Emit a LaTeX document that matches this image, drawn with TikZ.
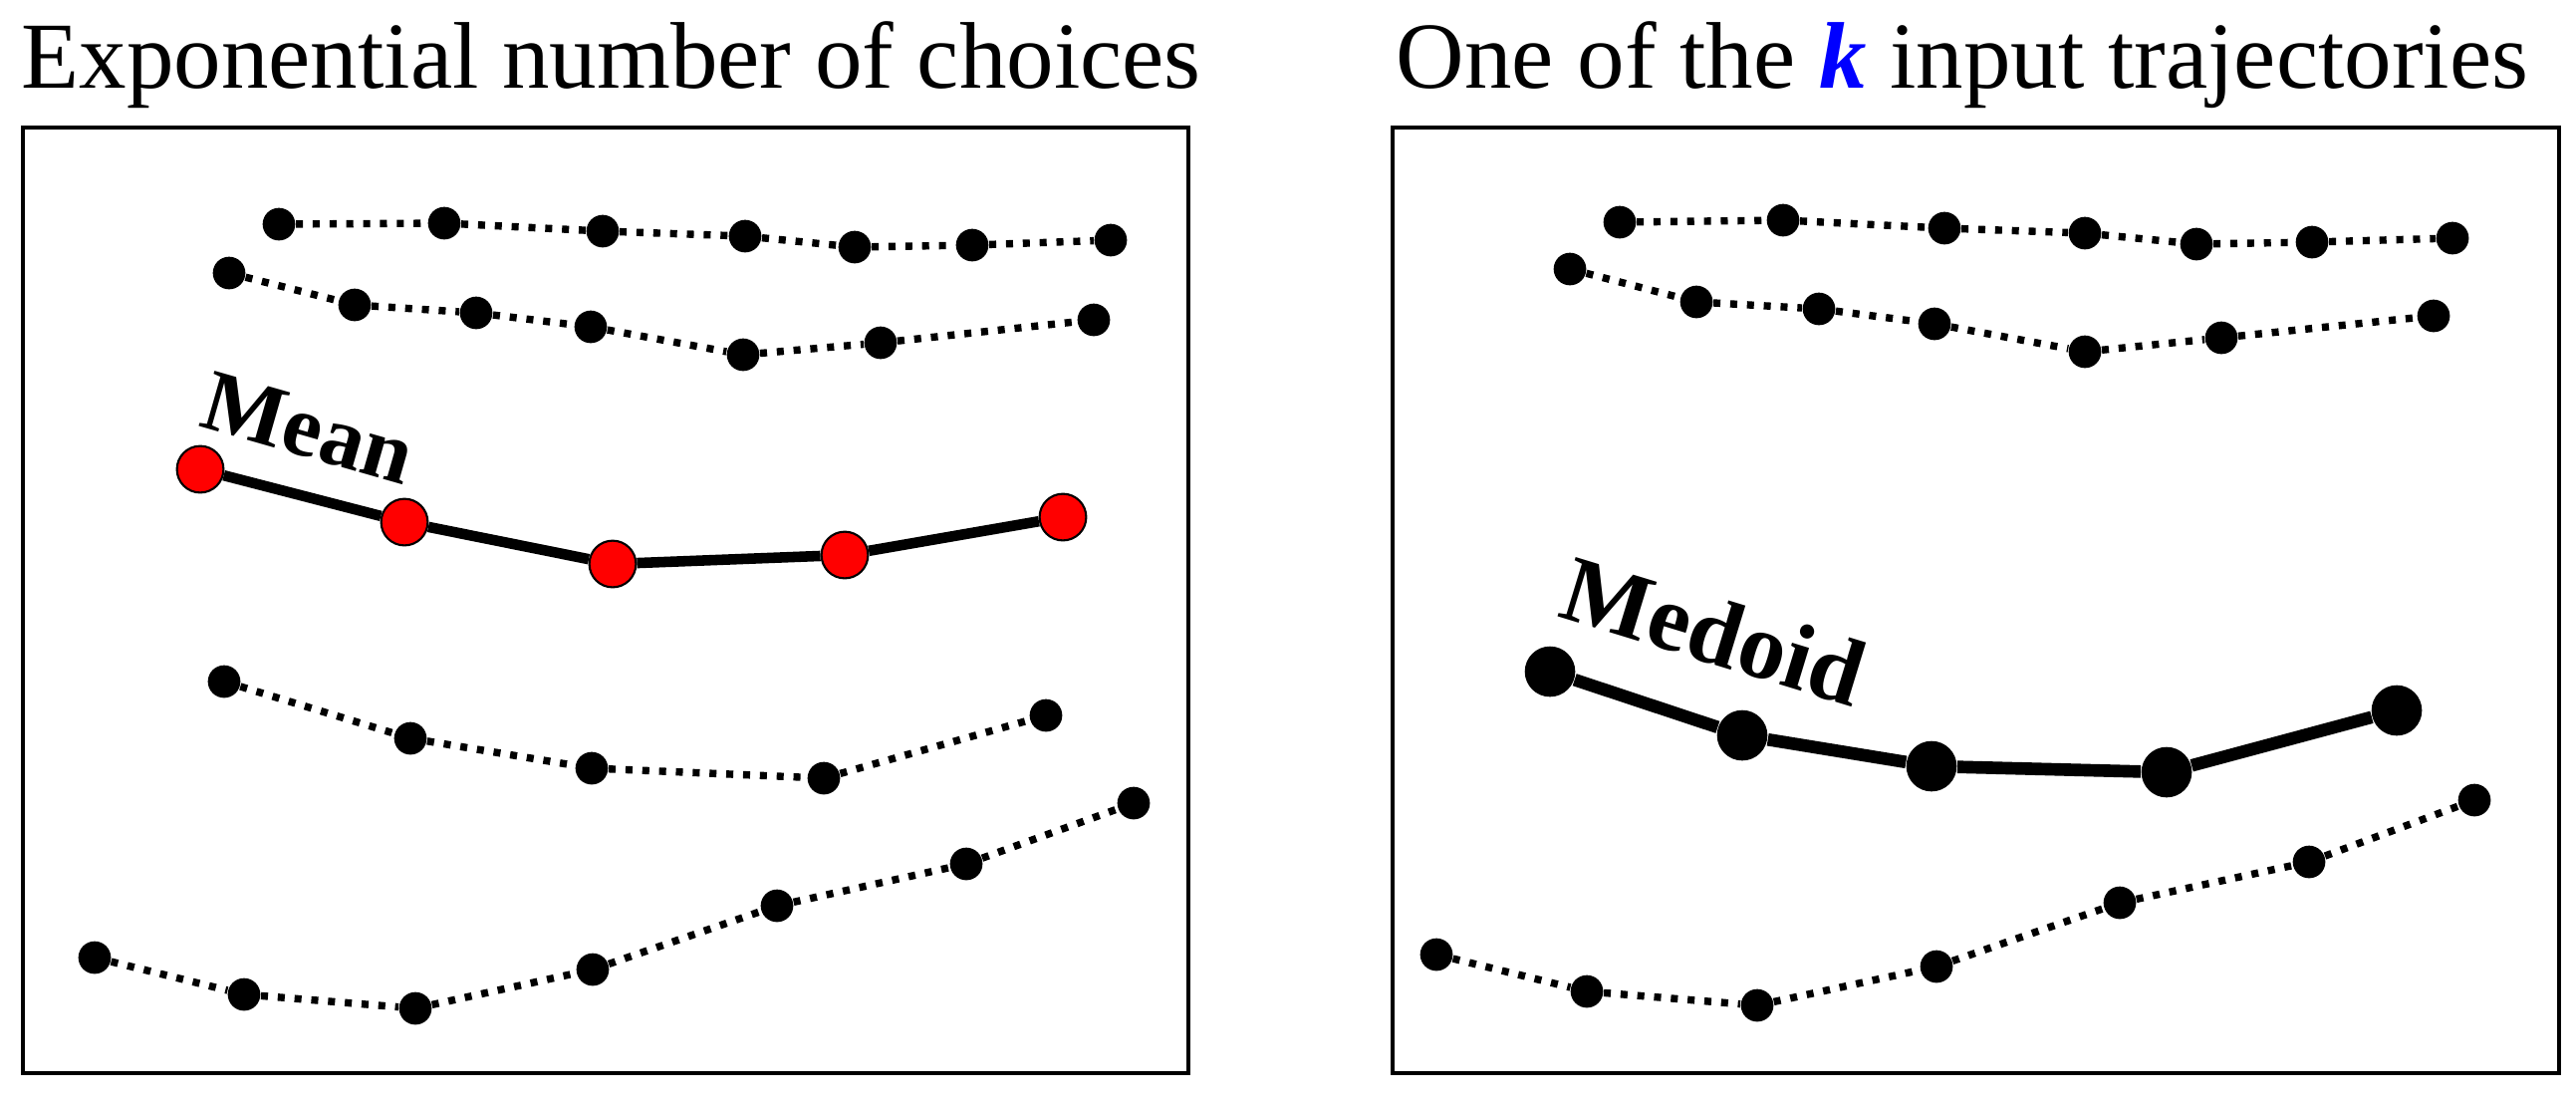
\documentclass[tikz,border=0pt]{standalone}
\usepackage{fontspec}
\setmainfont{Liberation Serif}
\begin{document}
\begin{tikzpicture}[x=0.01cm,y=-0.01cm,
  bdot/.style={circle,fill=black,inner sep=0pt,minimum size=9.3pt},
  rdot/.style={circle,fill=red,draw=black,line width=0.6pt,inner sep=0pt,minimum size=13.3pt},
  mdot/.style={circle,fill=black,inner sep=0pt,minimum size=14.4pt},
  dotline/.style={line width=2.1pt,dash pattern=on 2pt off 2.8pt},
  meanline/.style={line width=3pt},
  medline/.style={line width=3.6pt},
  panel/.style={draw=black,line width=1.2pt},
  title/.style={font=\fontsize{27}{30}\selectfont,anchor=base west,inner sep=0pt},
  lbl/.style={font=\fontsize{25}{28}\selectfont\bfseries,inner sep=0pt}]
\useasboundingbox (0,0) rectangle (2586,1111);

% panels
\draw[panel] (23,128) rectangle (1193,1077);
\draw[panel] (1398,128) rectangle (2569,1077);

% titles
\node[title] (t1) at (21,88) {Exponential number of choices};
\node[title] (t2) at (1401,88) {One of the \textcolor{blue}{\textbf{\textit{k}}} input trajectories};

% left panel trajectories
\foreach \pt [count=\i, remember=\i as \lasti (initially 0)] in {(280,225),(446,224),(605,232),(748,237),(858,248),(976,246),(1115,241)} {
  \node[bdot] (La\i) at \pt {};
  \ifnum\i>1 \draw[dotline] (La\lasti) -- (La\i); \fi
}
\foreach \pt [count=\i, remember=\i as \lasti (initially 0)] in {(230,274),(356,306),(478,314),(593,328),(746,356),(884,344),(1098,321)} {
  \node[bdot] (Lb\i) at \pt {};
  \ifnum\i>1 \draw[dotline] (Lb\lasti) -- (Lb\i); \fi
}
\foreach \pt [count=\i, remember=\i as \lasti (initially 0)] in {(225,684),(412,741),(594,771),(827,781),(1050,718)} {
  \node[bdot] (Lc\i) at \pt {};
  \ifnum\i>1 \draw[dotline] (Lc\lasti) -- (Lc\i); \fi
}
\foreach \pt [count=\i, remember=\i as \lasti (initially 0)] in {(95,961),(245,998),(417,1012),(595,973),(780,909),(970,867),(1138,806)} {
  \node[bdot] (Ld\i) at \pt {};
  \ifnum\i>1 \draw[dotline] (Ld\lasti) -- (Ld\i); \fi
}
% mean
\foreach \pt [count=\i, remember=\i as \lasti (initially 0)] in {(201,471),(406,524),(615,566),(848,557),(1067,519)} {
  \node[rdot] (Lm\i) at \pt {};
  \ifnum\i>1 \draw[meanline] (Lm\lasti) -- (Lm\i); \fi
}
\node[lbl,rotate=-16] (mean) at (310,430) {Mean};

% right panel trajectories
\foreach \pt [count=\i, remember=\i as \lasti (initially 0)] in {(1626,223),(1790,221),(1952,229),(2093,234),(2205,245),(2321,243),(2462,239)} {
  \node[bdot] (Ra\i) at \pt {};
  \ifnum\i>1 \draw[dotline] (Ra\lasti) -- (Ra\i); \fi
}
\foreach \pt [count=\i, remember=\i as \lasti (initially 0)] in {(1576,270),(1703,303),(1826,310),(1942,325),(2093,353),(2230,339),(2443,317)} {
  \node[bdot] (Rb\i) at \pt {};
  \ifnum\i>1 \draw[dotline] (Rb\lasti) -- (Rb\i); \fi
}
\foreach \pt [count=\i, remember=\i as \lasti (initially 0)] in {(1442,958),(1593,995),(1764,1009),(1944,970),(2128,906),(2318,865),(2484,803)} {
  \node[bdot] (Rd\i) at \pt {};
  \ifnum\i>1 \draw[dotline] (Rd\lasti) -- (Rd\i); \fi
}
% medoid
\foreach \pt [count=\i, remember=\i as \lasti (initially 0)] in {(1556,674),(1749,738),(1939,769),(2175,775),(2406,713)} {
  \node[mdot] (Rm\i) at \pt {};
  \ifnum\i>1 \draw[medline] (Rm\lasti) -- (Rm\i); \fi
}
\node[lbl,rotate=-17,font=\fontsize{27}{30}\selectfont\bfseries] (medoid) at (1721,633) {Medoid};
\end{tikzpicture}
\end{document}
